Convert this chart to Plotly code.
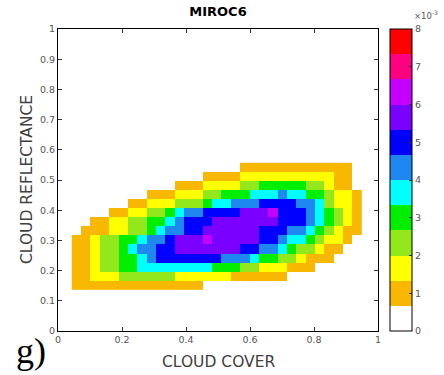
import plotly.graph_objects as go

# Cell grid of the joint histogram (cloud cover vs cloud reflectance)
X_START, X_STOP, N_COLS = 0.043, 0.949, 31
Y_START, Y_STOP, N_ROWS = 0.136, 0.557, 14

# Density band of every cell, bottom row first; digit k = band k of the colour bar
BAND_ROWS = [
    "1111111111111100000000000000000",
    "1122233333322222211111100000000",
    "1123344555555554443322211100000",
    "1123344567777777666544332111000",
    "1123345667788888887766543321100",
    "1123344566788898888877655432210",
    "0111223345667788888877766543211",
    "0011223344567778888888777654321",
    "0000112233456677778889777654321",
    "0000001122233345566677776653221",
    "0000000011122233444555655443221",
    "0000000000011122223344444332110",
    "0000000000000011112222222222110",
    "0000000000000000001111111111110",
]

# Colour bar: 12 equal bands from 0 to 8 (x 10^-3)
Z_MAX = 8.0
BAND_COLORS = [
    "#ffffff", "#f8b700", "#ffff00", "#92e81a", "#00ee00", "#00ffff",
    "#1e88f0", "#0000ff", "#7a00ff", "#c400ff", "#ff0080", "#ff0000",
]
CBAR_TICKS = [0, 1, 2, 3, 4, 5, 6, 7, 8]
X_TICKS = [0, 0.2, 0.4, 0.6, 0.8, 1]
Y_TICKS = [0, 0.1, 0.2, 0.3, 0.4, 0.5, 0.6, 0.7, 0.8, 0.9, 1]

n_bands = len(BAND_COLORS)
band_width = Z_MAX / n_bands
z = [[(int(ch) + 0.5) * band_width for ch in row] for row in BAND_ROWS]

dx = (X_STOP - X_START) / N_COLS
dy = (Y_STOP - Y_START) / N_ROWS
x_edges = [X_START + i * dx for i in range(N_COLS + 1)]
y_edges = [Y_START + j * dy for j in range(N_ROWS + 1)]

colorscale = []
for i, c in enumerate(BAND_COLORS):
    colorscale.append([i / n_bands, c])
    colorscale.append([(i + 1) / n_bands, c])

tick_font = dict(family="DejaVu Sans", size=9.5, color="#555555")

fig = go.Figure(
    go.Heatmap(
        x=x_edges,
        y=y_edges,
        z=z,
        zmin=0,
        zmax=Z_MAX,
        colorscale=colorscale,
        zsmooth=False,
        hoverinfo="skip",
        colorbar=dict(
            x=1.0375, xanchor="left", xpad=0,
            y=0, yanchor="bottom", ypad=0,
            len=1, lenmode="fraction",
            thickness=22, thicknessmode="pixels",
            outlinecolor="black", outlinewidth=1,
            tickvals=CBAR_TICKS,
            ticktext=[str(t) for t in CBAR_TICKS],
            ticks="inside", ticklen=3, tickcolor="#333333",
            tickfont=tick_font,
        ),
    )
)

axis_common = dict(
    showline=True, linecolor="black", linewidth=1, mirror="ticks",
    ticks="inside", ticklen=4, tickcolor="#333333",
    showgrid=False, zeroline=False, tickfont=tick_font,
)

fig.update_layout(
    width=444,
    height=375,
    margin=dict(l=58, r=66, t=29, b=44),
    paper_bgcolor="white",
    plot_bgcolor="white",
    xaxis=dict(range=[0, 1], tickvals=X_TICKS,
               ticktext=["0", "0.2", "0.4", "0.6", "0.8", "1"], **axis_common),
    yaxis=dict(range=[0, 1], tickvals=Y_TICKS,
               ticktext=["0", "0.1", "0.2", "0.3", "0.4", "0.5",
                         "0.6", "0.7", "0.8", "0.9", "1"], **axis_common),
    title=dict(text="<b>MIROC6</b>", x=0.5, xref="paper", xanchor="center",
               y=1 - 11 / 375, yref="container", yanchor="middle",
               font=dict(family="DejaVu Sans", size=13, color="black")),
    annotations=[
        dict(text="CLOUD COVER", xref="paper", yref="paper",
             x=0.5, y=-31 / 302, xanchor="center", yanchor="middle",
             showarrow=False,
             font=dict(family="DejaVu Sans", size=15.5, color="#404040")),
        dict(text="CLOUD REFLECTANCE", xref="paper", yref="paper",
             x=-31 / 320, y=0.5, xanchor="center", yanchor="middle",
             textangle=-90, showarrow=False,
             font=dict(family="DejaVu Sans", size=15.5, color="#404040")),
        dict(text="\u00d710<sup>-3</sup>", xref="paper", yref="paper",
             x=1.0375 + 22 / 320, y=1 + 14 / 302, xanchor="left",
             yanchor="middle", showarrow=False,
             font=dict(family="DejaVu Sans", size=8.5, color="#555555")),
        dict(text="g)", xref="paper", yref="paper",
             x=-27 / 320, y=-20 / 302, xanchor="center", yanchor="middle",
             showarrow=False,
             font=dict(family="Liberation Serif", size=36, color="black")),
    ],
)

fig.write_html("out.html")
